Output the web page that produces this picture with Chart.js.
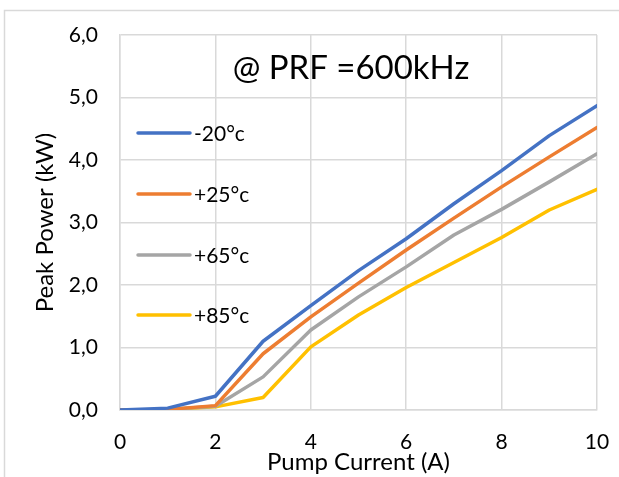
<!DOCTYPE html>
<html>
<head>
<meta charset="utf-8">
<script src="https://cdn.jsdelivr.net/npm/chart.js@4"></script>
<style>
html,body{margin:0;padding:0;background:#fff;}
#wrap{width:619px;height:477px;position:relative;}
</style>
</head>
<body>
<div id="wrap"><canvas id="c" width="619" height="477"></canvas></div>
<script>
const currents = [0, 1, 2, 3, 4, 5, 6, 7, 8, 9, 10];
const seriesLabels = ['-20°c', '+25°c', '+65°c', '+85°c'];
const minus20 = [0, 0.03, 0.22, 1.10, 1.67, 2.23, 2.74, 3.30, 3.83, 4.39, 4.87];
const plus25  = [0, 0.01, 0.07, 0.90, 1.49, 2.03, 2.56, 3.07, 3.57, 4.05, 4.52];
const plus65  = [0, 0.01, 0.06, 0.53, 1.28, 1.81, 2.29, 2.80, 3.21, 3.65, 4.10];
const plus85  = [0, 0.01, 0.05, 0.20, 1.01, 1.52, 1.96, 2.36, 2.76, 3.20, 3.53];
const xTicks = [0, 2, 4, 6, 8, 10];
const yTicks = [0, 1, 2, 3, 4, 5, 6];
const chartTitle = '@ PRF =600kHz';
const xTitle = 'Pump Current (A)';
const yTitle = 'Peak Power (kW)';

const colors = ['#4472C4', '#ED7D31', '#A5A5A5', '#FFC000'];
const FONT = 'Lato';
const allSeries = [minus20, plus25, plus65, plus85];

const datasets = allSeries.map((s, i) => ({
  label: seriesLabels[i],
  data: currents.map((x, j) => ({x: x, y: s[j]})),
  borderColor: colors[i],
  backgroundColor: colors[i],
  borderWidth: 3.5,
  pointRadius: 0,
  tension: 0,
  fill: false,
  borderCapStyle: 'round',
  borderJoinStyle: 'round'
}));

const overlay = {
  id: 'overlay',
  beforeDraw(chart) {
    const ctx = chart.ctx;
    ctx.save();
    ctx.fillStyle = '#fff';
    ctx.fillRect(0, 0, chart.width, chart.height);
    ctx.strokeStyle = '#d9d9d9';
    ctx.lineWidth = 1.5;
    ctx.strokeRect(4.5, 10.5, 800, 800);
    ctx.restore();
  },
  afterDatasetsDraw(chart) {
    const ctx = chart.ctx;
    ctx.save();
    ctx.fillStyle = '#000';
    ctx.font = '33px ' + FONT;
    ctx.textAlign = 'center';
    ctx.textBaseline = 'middle';
    ctx.fillText(chartTitle, 351, 68);
    const ys = [133, 194, 255, 315];
    ctx.font = '21px ' + FONT;
    ctx.textAlign = 'left';
    chart.data.datasets.forEach((d, i) => {
      ctx.strokeStyle = d.borderColor;
      ctx.lineWidth = 3.5;
      ctx.lineCap = 'round';
      ctx.beginPath();
      ctx.moveTo(138, ys[i]);
      ctx.lineTo(190, ys[i]);
      ctx.stroke();
      ctx.fillStyle = '#000';
      ctx.fillText(d.label, 194, ys[i] + 1);
    });
    ctx.restore();
  }
};

new Chart(document.getElementById('c'), {
  type: 'line',
  data: { datasets: datasets },
  options: {
    responsive: false,
    animation: false,
    devicePixelRatio: 1,
    layout: { padding: { left: 0, right: 22, top: 35, bottom: 0 } },
    plugins: { legend: { display: false }, title: { display: false }, tooltip: { enabled: false } },
    scales: {
      x: {
        type: 'linear',
        min: 0, max: 10,
        afterFit(scale) { scale.height = 67; scale.paddingRight = 0; scale.paddingLeft = 0; },
        afterBuildTicks(scale) { scale.ticks = xTicks.map(v => ({value: v})); },
        grid: { color: '#d9d9d9', lineWidth: 1.5, drawTicks: false },
        border: { color: '#d9d9d9', width: 1.5 },
        ticks: { padding: 20, color: '#000', font: { family: FONT, size: 21 }, callback: v => String(v) },
        title: { display: true, text: xTitle, color: '#000', font: { family: FONT, size: 24 }, padding: { top: 0, bottom: 0 } }
      },
      y: {
        min: 0, max: 6,
        afterFit(scale) { scale.width = 120; scale.paddingTop = 0; scale.paddingBottom = 0; },
        afterBuildTicks(scale) { scale.ticks = yTicks.map(v => ({value: v})); },
        grid: { color: '#d9d9d9', lineWidth: 1.5, drawTicks: false },
        border: { color: '#d9d9d9', width: 1.5 },
        ticks: { padding: 22, color: '#000', font: { family: FONT, size: 21 }, callback: v => v.toFixed(1).replace('.', ',') },
        title: { display: true, text: yTitle, color: '#000', font: { family: FONT, size: 24 }, padding: { top: 31, bottom: 0 } }
      }
    }
  },
  plugins: [overlay]
});
</script>
</body>
</html>
